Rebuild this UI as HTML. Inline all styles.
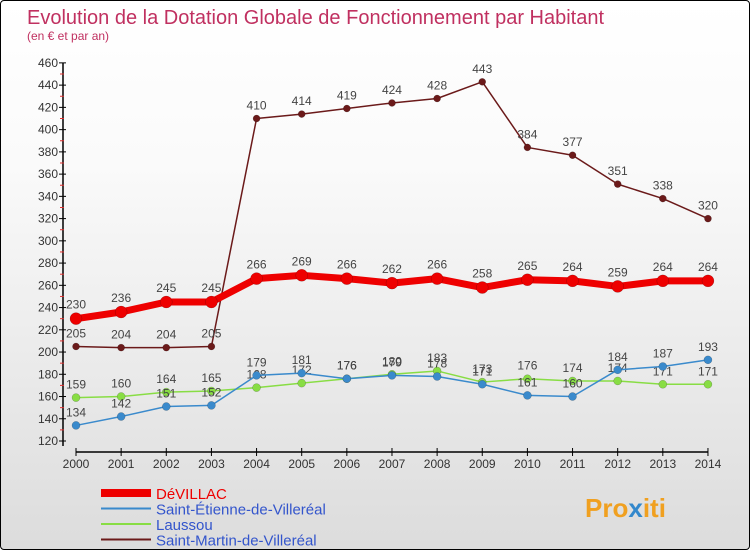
<!DOCTYPE html>
<html><head><meta charset="utf-8"><style>
body{margin:0;}
#c{width:748px;height:548px;border:1px solid #000;border-radius:4px;position:relative;overflow:hidden;background:linear-gradient(#fff,#fafafa 30%,#dcdcdc);font-family:"Liberation Sans",sans-serif;}
svg{position:absolute;left:0;top:0;}
</style></head><body>
<div id="c">
<svg id="s" width="750" height="550">
<text x="26" y="23" font-size="20" fill="#c03060">Evolution de la Dotation Globale de Fonctionnement par Habitant</text>
<text x="26" y="39" font-size="12" fill="#c03060">(en € et par an)</text>
<text x="584" y="516" font-size="26" font-weight="bold" fill="#f0a020">Pro<tspan fill="#3388cc">x</tspan>iti</text>
</svg>
</div>
<script>
const years=["2000","2001","2002","2003","2004","2005","2006","2007","2008","2009","2010","2011","2012","2013","2014"];
const devillac=[230,236,245,245,266,269,266,262,266,258,265,264,259,264,264];
const stEtienne=[134,142,151,152,179,181,176,179,178,171,161,160,184,187,193];
const laussou=[159,160,164,165,168,172,176,180,183,173,176,174,174,171,171];
const stMartin=[205,204,204,205,410,414,419,424,428,443,384,377,351,338,320];
const yTicks=[120,140,160,180,200,220,240,260,280,300,320,340,360,380,400,420,440,460];
const NS="http://www.w3.org/2000/svg",s=document.getElementById('s');
const X=i=>75+i*45.14, Y=v=>440-(v-120)*1.112;
function mk(t,a,p){const e=document.createElementNS(NS,t);for(const k in a)e.setAttribute(k,a[k]);(p||s).appendChild(e);return e;}
let ax=mk('line',{x1:62,y1:Y(460),x2:62,y2:445,stroke:'#000','stroke-width':1.5});


let xa=mk('line',{x1:75,y1:451,x2:707,y2:451,stroke:'#000','stroke-width':1.5});


yTicks.forEach((v,i)=>{
 mk('line',{x1:58,y1:Y(v),x2:65,y2:Y(v),stroke:'#000'});
 if(i<yTicks.length-1)mk('line',{x1:59,y1:Y(v+10),x2:63,y2:Y(v+10),stroke:'#e03030'});
 const t=mk('text',{x:57,y:Y(v)+4,'font-size':12,fill:'#333','text-anchor':'end'});t.textContent=v;
 
 
});
years.forEach((y,i)=>{
 mk('line',{x1:X(i),y1:447,x2:X(i),y2:455,stroke:'#000'});
 const t=mk('text',{x:X(i),y:467,'font-size':12,fill:'#333','text-anchor':'middle'});t.textContent=y;
 
 
});
function series(d,col,w,r,name,lblOff){
 const g=mk('g',{});
 
 
 mk('polyline',{points:d.map((v,i)=>X(i)+','+Y(v)).join(' '),fill:'none',stroke:col,'stroke-width':w,'stroke-linejoin':'round'},g);
 d.forEach((v,i)=>{
  const c=mk('circle',{cx:X(i),cy:Y(v),r:r,fill:col,stroke:'rgba(0,0,0,0.3)','stroke-width':0.5},g);
  
  
  const t=mk('text',{x:X(i),y:Y(v)+lblOff,'font-size':12,fill:'#444','text-anchor':'middle'},g);t.textContent=v;
 });
}
series(stMartin,'#6b1a1a',1.5,3.5,'saint-martin-series',-9);
series(laussou,'#88dd44',1.5,4,'laussou-series',-9);
series(stEtienne,'#3a8acc',1.5,4,'saint-etienne-series',-9);
series(devillac,'#ee0000',7,6,'devillac-series',-10);
const leg=[['DéVILLAC','#ee0000',8,'#ee0000'],['Saint-Étienne-de-Villeréal','#3a8acc',2,'#3355cc'],['Laussou','#88dd44',2,'#3355cc'],['Saint-Martin-de-Villeréal','#6b1a1a',2,'#3355cc']];
leg.forEach((l,i)=>{
 const g=mk('g',{});
 
 
 const y=492+i*15.5;
 mk('line',{x1:100,y1:y,x2:150,y2:y,stroke:l[1],'stroke-width':l[2]},g);
 const t=mk('text',{x:155,y:y+6,'font-size':15,fill:l[3]},g);t.textContent=l[0];
});
</script>
</body></html>
